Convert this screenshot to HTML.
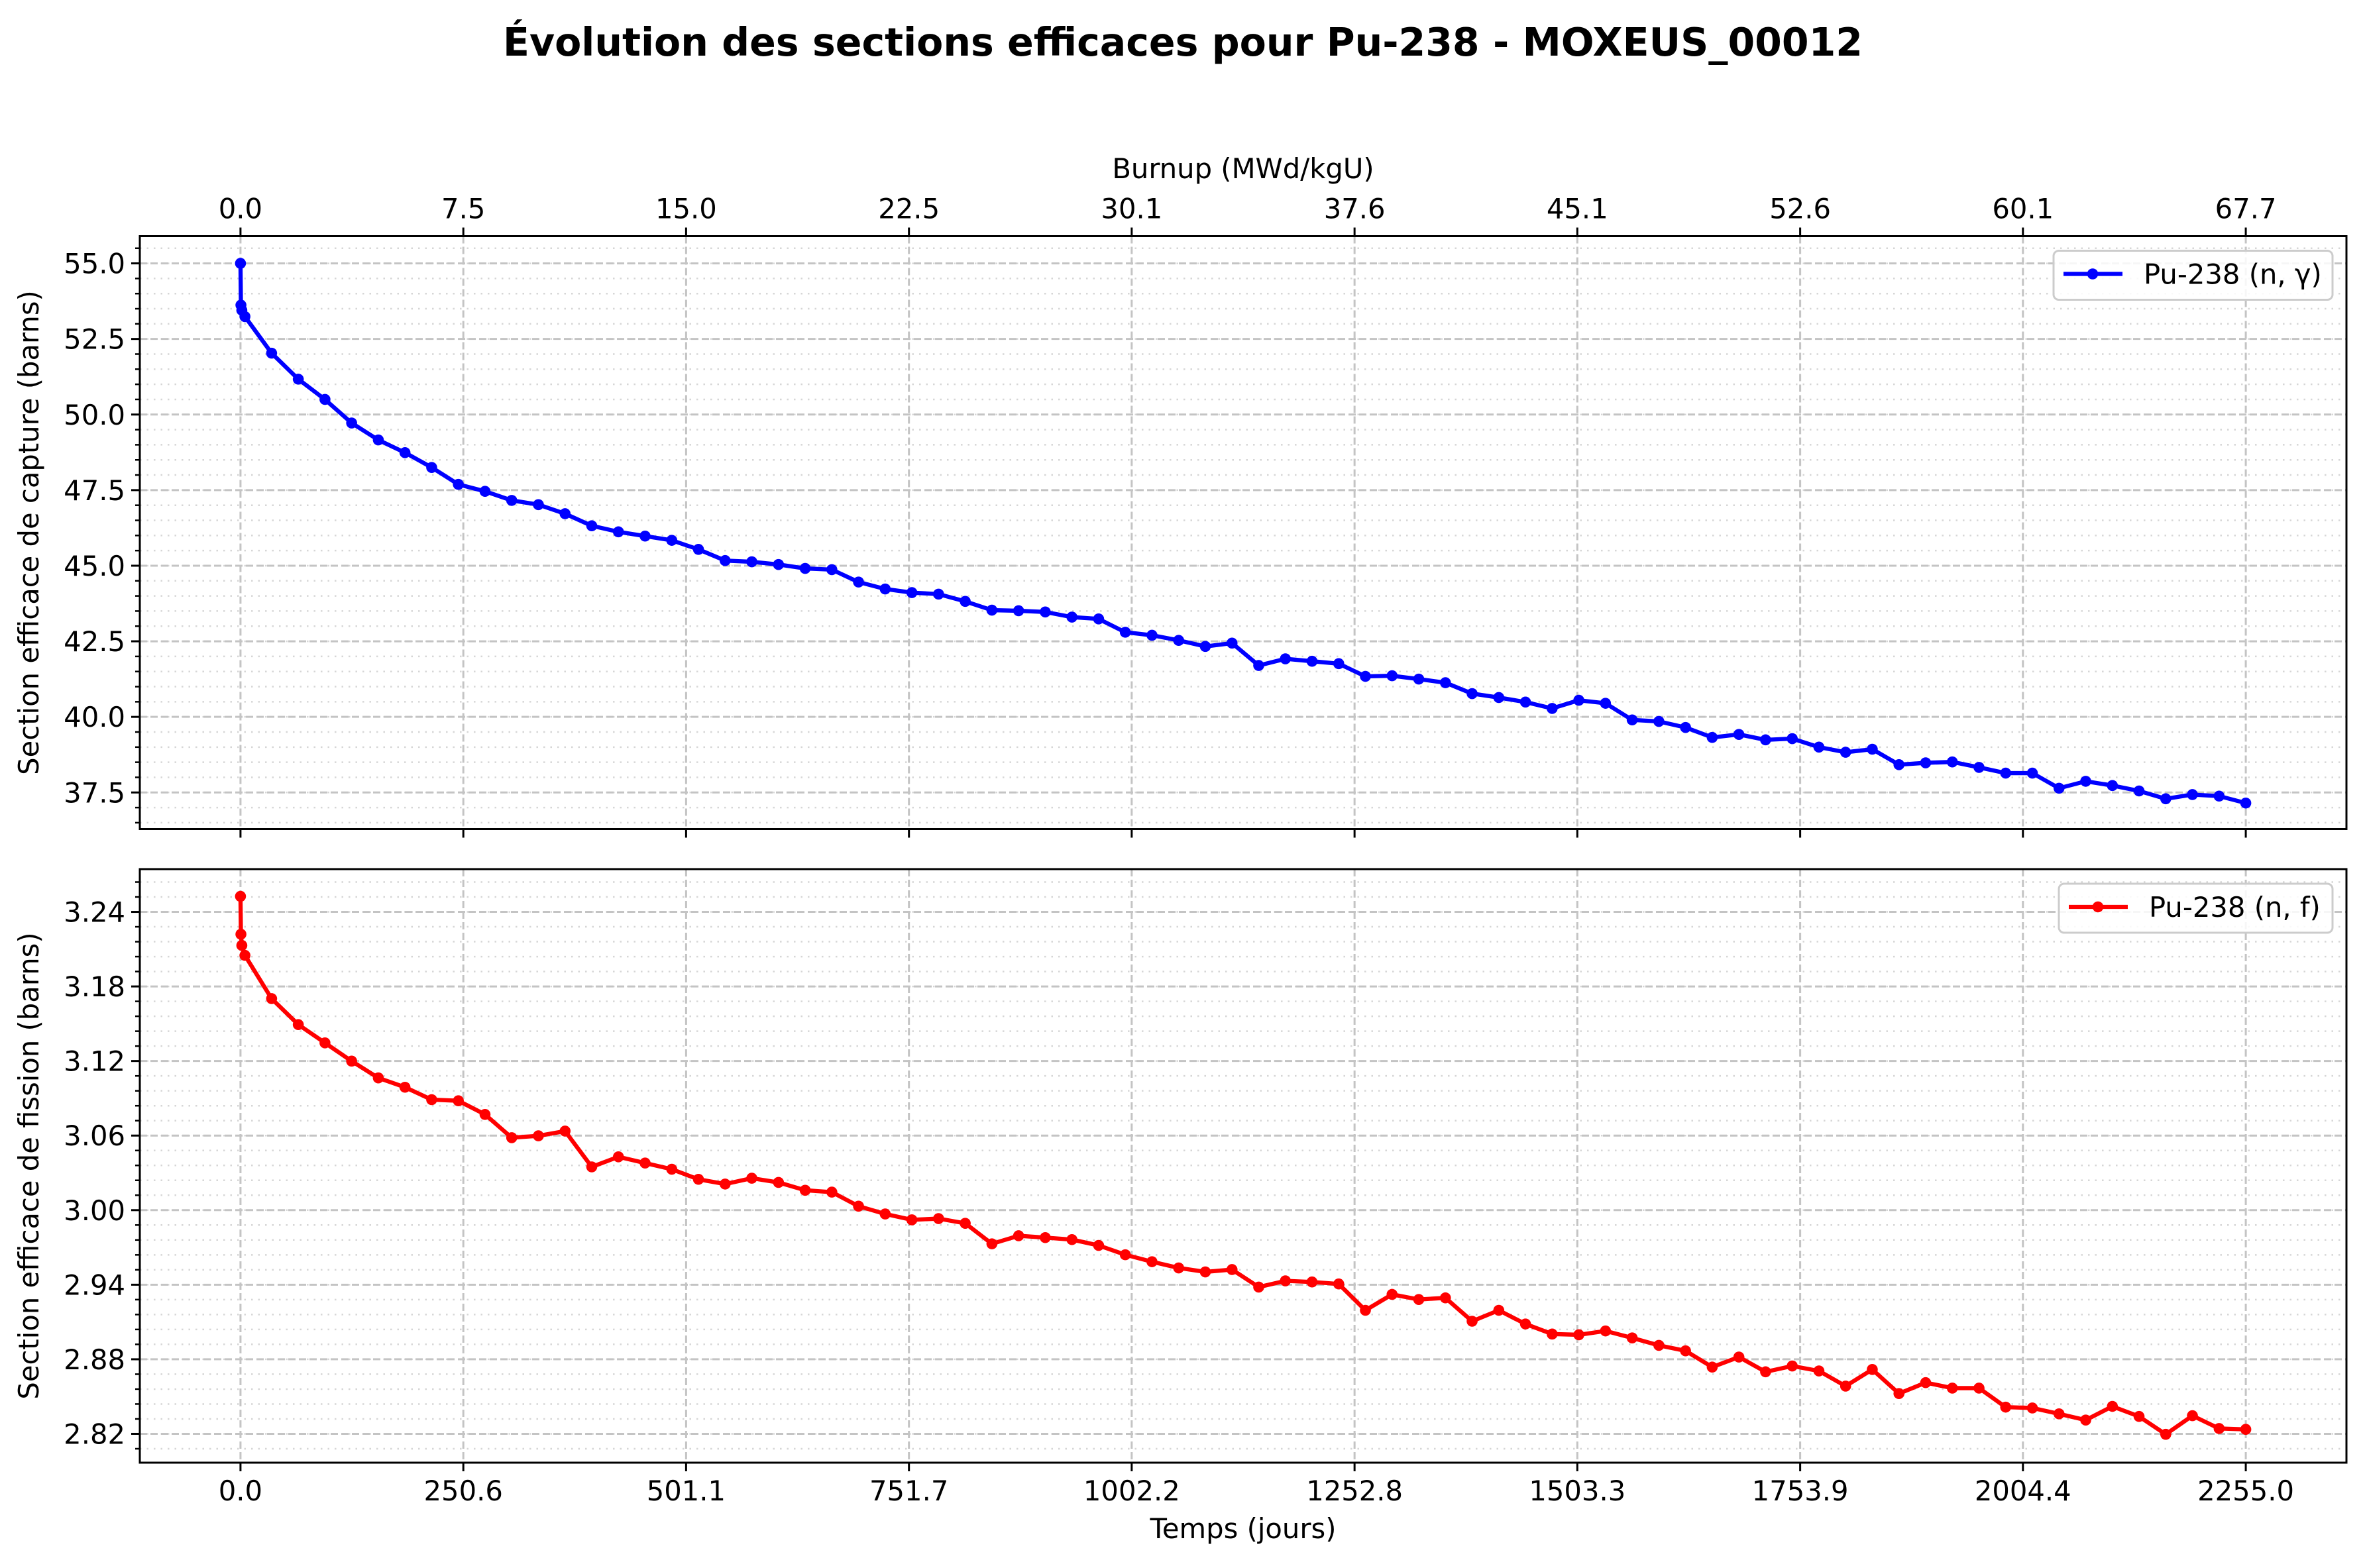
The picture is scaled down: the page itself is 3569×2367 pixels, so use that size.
<!DOCTYPE html>
<html><head><meta charset="utf-8"><style>
html,body{margin:0;padding:0;background:#fff}
svg{display:block}
text{font-family:"DejaVu Sans","Liberation Sans",sans-serif;fill:#000}
</style></head><body>
<svg id="fig" width="3569" height="2367" viewBox="0 0 3569 2367" xmlns="http://www.w3.org/2000/svg">
<rect width="3569" height="2367" fill="#fff"/>
<text x="1785" y="84" text-anchor="middle" font-size="58.5" font-weight="bold">Évolution des sections efficaces pour Pu-238 - MOXEUS_00012</text>
<g id="top"></g><g id="bot"></g>
</svg>
<script>
const timeTicks=[0,250.6,501.1,751.7,1002.2,1252.8,1503.3,1753.9,2004.4,2255.0];
const burnupLabels=["0.0","7.5","15.0","22.5","30.1","37.6","45.1","52.6","60.1","67.7"];
const timeLabels=["0.0","250.6","501.1","751.7","1002.2","1252.8","1503.3","1753.9","2004.4","2255.0"];
const days=[0,0.5,1.5,5,35,65,95,125,155,185,215,245,275,305,335,365,395,425,455,485,515,545,575,605,635,665,695,725,755,785,815,845,875,905,935,965,995,1025,1055,1085,1115,1145,1175,1205,1235,1265,1295,1325,1355,1385,1415,1445,1475,1505,1535,1565,1595,1625,1655,1685,1715,1745,1775,1805,1835,1865,1895,1925,1955,1985,2015,2045,2075,2105,2135,2165,2195,2225,2255];
const captureValues=[55.0,53.62,53.45,53.24,52.03,51.17,50.50,49.72,49.16,48.74,48.25,47.69,47.46,47.16,47.02,46.72,46.32,46.12,45.98,45.84,45.54,45.17,45.13,45.04,44.91,44.87,44.46,44.23,44.11,44.06,43.82,43.53,43.51,43.47,43.30,43.24,42.80,42.70,42.53,42.33,42.44,41.70,41.92,41.84,41.76,41.34,41.36,41.25,41.13,40.77,40.64,40.49,40.28,40.55,40.45,39.90,39.85,39.65,39.32,39.42,39.24,39.28,39.00,38.83,38.93,38.42,38.48,38.51,38.33,38.14,38.14,37.64,37.87,37.73,37.55,37.29,37.43,37.38,37.15];
const fissionValues=[3.2525,3.222,3.213,3.205,3.1702,3.1493,3.1346,3.1199,3.1064,3.0989,3.0889,3.0880,3.0770,3.0583,3.0598,3.0636,3.0348,3.0429,3.0379,3.0329,3.0248,3.0210,3.0257,3.0223,3.0160,3.0145,3.0032,2.9969,2.9922,2.9932,2.9894,2.9729,2.9794,2.9779,2.9763,2.9716,2.9641,2.9585,2.9535,2.9503,2.9522,2.9381,2.9431,2.9422,2.9406,2.9194,2.9322,2.9281,2.9294,2.9106,2.9194,2.9084,2.9003,2.8997,2.9028,2.8972,2.8912,2.8868,2.8737,2.8818,2.8699,2.8746,2.8706,2.8584,2.8718,2.8524,2.8612,2.8568,2.8568,2.8415,2.8408,2.8361,2.8311,2.8421,2.8340,2.8196,2.8346,2.8243,2.8236];
const captureTicks=[37.5,40.0,42.5,45.0,47.5,50.0,52.5,55.0];
const fissionTicks=[2.82,2.88,2.94,3.00,3.06,3.12,3.18,3.24];

const NS="http://www.w3.org/2000/svg";
const L=211,R=3541,X0=-113.2,X1=2368.2;
function xs(v){return L+(v-X0)/(X1-X0)*(R-L);}
function mk(p,tag,a){const e=document.createElementNS(NS,tag);for(const k in a)e.setAttribute(k,a[k]);p.appendChild(e);return e;}

function panel(g,top,bot,y0,y1,ticks,minorStep,dec,vals,color,ylab,leg,legW,isTop){
  const ys=v=>bot-(v-y0)/(y1-y0)*(bot-top);
  const start=Math.ceil(y0/minorStep-1e-6);
  for(let k=start;k*minorStep<=y1+1e-9;k++){
    const v=k*minorStep,y=ys(v);
    const l=mk(g,'line',{x1:L,x2:R,y1:y,y2:y,stroke:'#d6d6d6','stroke-width':2.5,'stroke-dasharray':'2.5 8'});
    
    
    const t=mk(g,'line',{x1:L-7,x2:L,y1:y,y2:y,stroke:'#000','stroke-width':2.5});
    
    
  }
  ticks.forEach(v=>{
    const y=ys(v);
    const l=mk(g,'line',{x1:L,x2:R,y1:y,y2:y,stroke:'#c4c4c4','stroke-width':3,'stroke-dasharray':'11 5'});
    
    
    const t=mk(g,'line',{x1:L-13,x2:L,y1:y,y2:y,stroke:'#000','stroke-width':3});
    
    
    const tx=mk(g,'text',{x:L-22,y:y+15,'text-anchor':'end','font-size':41.7});
    tx.textContent=v.toFixed(dec);
    
    
  });
  timeTicks.forEach((v,i)=>{
    const x=xs(v);
    const l=mk(g,'line',{x1:x,x2:x,y1:top,y2:bot,stroke:'#c4c4c4','stroke-width':3,'stroke-dasharray':'11 5'});
    
    
    if(isTop){
      const t=mk(g,'line',{x1:x,x2:x,y1:top-13,y2:top,stroke:'#000','stroke-width':3});
      
      
      const tx=mk(g,'text',{x:x,y:top-27,'text-anchor':'middle','font-size':41.7});
      tx.textContent=burnupLabels[i];
      
      
    }
    const t2=mk(g,'line',{x1:x,x2:x,y1:bot,y2:bot+13,stroke:'#000','stroke-width':3});
    
    
    if(!isTop){
      const tx=mk(g,'text',{x:x,y:bot+57,'text-anchor':'middle','font-size':41.7});
      tx.textContent=timeLabels[i];
      
      
    }
  });
  const pts=days.map((d,i)=>xs(d)+','+ys(vals[i])).join(' ');
  const pl=mk(g,'polyline',{points:pts,fill:'none',stroke:color,'stroke-width':6.3,'stroke-linejoin':'round'});
  
  
  days.forEach((d,i)=>{
    const c=mk(g,'circle',{cx:xs(d),cy:ys(vals[i]),r:8.3,fill:color});
    
    
  });
  const fr=mk(g,'rect',{x:L,y:top,width:R-L,height:bot-top,fill:'none',stroke:'#000','stroke-width':3});
  
  
  const yl=mk(g,'text',{x:0,y:0,'text-anchor':'middle','font-size':41.7,transform:`translate(58,${(top+bot)/2}) rotate(-90)`});
  yl.textContent=ylab;
  
  
  const lg=mk(g,'g',{});
  
  
  const bx=3520-legW,by=top+22;
  mk(lg,'rect',{x:bx,y:by,width:legW,height:74,rx:8,fill:'#fff','fill-opacity':0.85,stroke:'#cccccc','stroke-width':3});
  mk(lg,'line',{x1:bx+15,x2:bx+104,y1:by+35,y2:by+35,stroke:color,'stroke-width':6.3});
  mk(lg,'circle',{cx:bx+59,cy:by+35,r:8.3,fill:color});
  const lt=mk(lg,'text',{x:bx+136,y:by+50,'font-size':41.7});
  lt.textContent=leg;
  
  
}
const gt=document.getElementById('top'),gb=document.getElementById('bot');




panel(gt,356.5,1251.5,36.29,55.90,captureTicks,0.5,1,captureValues,'#0000ff','Section efficace de capture (barns)','Pu-238 (n, γ)',421,true);
panel(gb,1312,2208,2.7968,3.2744,fissionTicks,0.012,2,fissionValues,'#ff0000','Section efficace de fission (barns)','Pu-238 (n, f)',413,false);
const svg=document.getElementById('fig');
const bl=mk(svg,'text',{x:1876,y:269,'text-anchor':'middle','font-size':41.7});
bl.textContent='Burnup (MWd/kgU)';


const xl=mk(svg,'text',{x:1876,y:2322,'text-anchor':'middle','font-size':41.7});
xl.textContent='Temps (jours)';


</script>
</body></html>
